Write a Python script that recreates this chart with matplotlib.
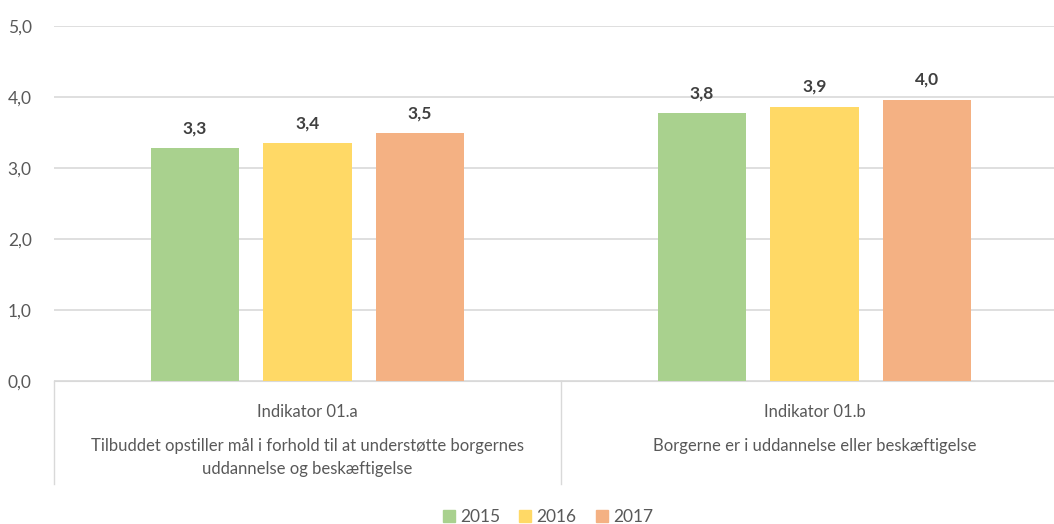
import numpy as np
import matplotlib
matplotlib.use('Agg')
from matplotlib import pyplot as plt
from matplotlib.lines import Line2D

plt.rcParams['font.family'] = ['Lato', 'DejaVu Sans']

categories = ['Indikator 01.a', 'Indikator 01.b']
descriptions = ['Tilbuddet opstiller mål i forhold til at understøtte borgernes\nuddannelse og beskæftigelse',
                'Borgerne er i uddannelse eller beskæftigelse']
years = ['2015', '2016', '2017']
values = {
    '2015': [3.28, 3.77],
    '2016': [3.35, 3.86],
    '2017': [3.49, 3.96],
}
colors = ['#A9D18E', '#FFD966', '#F4B183']
text_color = '#595959'


def fmt(v):
    return f'{v:.1f}'.replace('.', ',')


def plot_chart():
    fig = plt.figure(figsize=(10.54, 5.24), dpi=100)
    W, H = 1054, 524
    left, right, bottom, top = 54, 1054, 381, 26
    ax = fig.add_axes([left / W, 1 - bottom / H, (right - left) / W, (bottom - top) / H])

    x = np.arange(len(categories))
    width = 0.175
    step = 0.222
    for i, (year, color) in enumerate(zip(years, colors)):
        pos = x + (i - 1) * step
        ax.bar(pos, values[year], width=width, color=color, zorder=3)
        for p, v in zip(pos, values[year]):
            ax.text(p, v + 0.17, fmt(v), ha='center', va='bottom',
                    fontsize=12.5, fontweight='bold', color='#404040')

    ax.set_ylim(0, 5)
    ax.set_xlim(-0.5, 1.5 - 14 / 507)
    ax.set_yticks(np.arange(0, 6, 1))
    ax.set_yticklabels([fmt(t) for t in np.arange(0, 6, 1)], fontsize=12.5, color=text_color)
    ax.tick_params(axis='y', length=0, pad=16)
    ax.set_xticks([])
    ax.grid(axis='y', color='#D9D9D9', linewidth=1.2, zorder=0)
    for s in ['top', 'right', 'left']:
        ax.spines[s].set_visible(False)
    ax.spines['bottom'].set_color('#D9D9D9')

    # category table below the axis
    for xb in [-0.5, 0.5]:
        ax.add_line(Line2D([xb, xb], [0, -1.45], color='#D9D9D9', linewidth=1,
                           clip_on=False))
    for xi, cat, desc in zip(x, categories, descriptions):
        ax.text(xi, -0.44, cat, ha='center', va='center', fontsize=12, color=text_color)
        ax.text(xi, -0.8, desc, ha='center', va='top', fontsize=12,
                color=text_color, linespacing=1.55)

    handles = [plt.Rectangle((0, 0), 1, 1, color=c) for c in colors]
    fig.legend(handles, years, loc='center', bbox_to_anchor=(548 / W, 1 - 517 / H),
               ncol=3, frameon=False, fontsize=12.5, handlelength=0.7, handleheight=0.7,
               handletextpad=0.3, columnspacing=1.1, labelcolor=text_color)

    fig.savefig('out.png', dpi=100, facecolor='white')


if __name__ == "__main__":
    plot_chart()
